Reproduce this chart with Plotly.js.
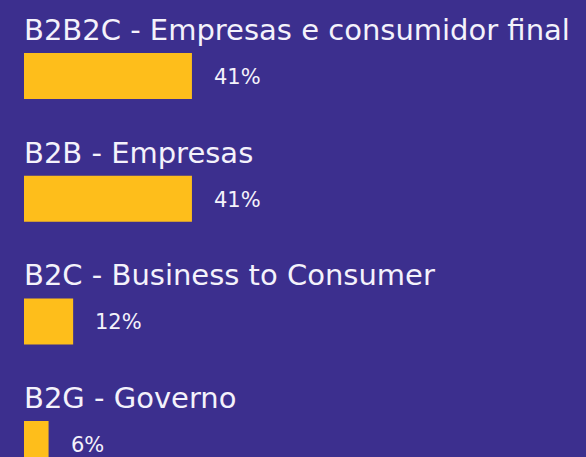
<!DOCTYPE html>
<html>
<head>
<meta charset="utf-8">
<script src="https://cdn.plot.ly/plotly-3.0.1.min.js"></script>
<style>html,body{margin:0;padding:0;background:#3c2f8e;}</style>
</head>
<body>
<div id="chart" style="width:586px;height:457px;"></div>
<script>
const categories = ["B2B2C - Empresas e consumidor final", "B2B - Empresas", "B2C - Business to Consumer", "B2G - Governo"];
const values = [41, 41, 12, 6];
const valueLabels = ["41%", "41%", "12%", "6%"];

const BG = "#3c2f8e";
const BAR = "#febe1b";
const TXT = "#f4f2fb";
const FONT = "DejaVu Sans, sans-serif";

const trace = {
  type: "bar",
  orientation: "h",
  x: values,
  y: categories,
  marker: {color: BAR, line: {width: 0}},
  width: 0.375,
  hoverinfo: "none",
  cliponaxis: false
};

const annotations = [];
categories.forEach((c, i) => {
  annotations.push({
    x: 0, y: c, xref: "x", yref: "y",
    text: c, showarrow: false,
    xanchor: "left", yanchor: "middle",
    yshift: 46, xshift: -2,
    font: {family: FONT, size: 29, color: TXT}
  });
  annotations.push({
    x: values[i], y: c, xref: "x", yref: "y",
    text: valueLabels[i], showarrow: false,
    xanchor: "left", yanchor: "middle",
    xshift: 20, yshift: -1,
    font: {family: FONT, size: 21, color: TXT}
  });
});

const layout = {
  width: 586, height: 457,
  margin: {l: 24, r: 0, t: 0, b: 0, pad: 0},
  paper_bgcolor: BG, plot_bgcolor: BG,
  showlegend: false,
  xaxis: {range: [0, 137.2], visible: false, fixedrange: true},
  yaxis: {type: "category", range: [3.105, -0.619], visible: false, fixedrange: true},
  annotations: annotations
};

Plotly.newPlot("chart", [trace], layout, {displayModeBar: false, staticPlot: true});
</script>
</body>
</html>
